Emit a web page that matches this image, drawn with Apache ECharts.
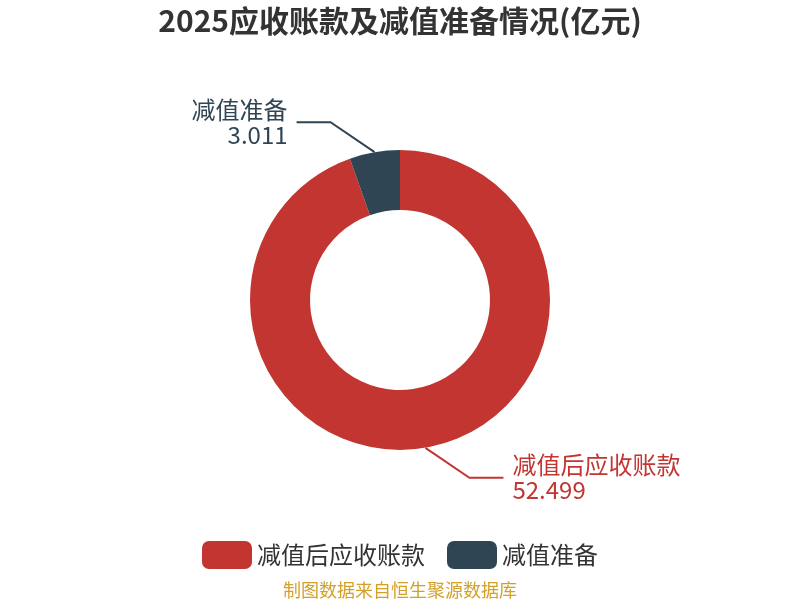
<!DOCTYPE html>
<html>
<head>
<meta charset="utf-8">
<script src="https://cdn.jsdelivr.net/npm/echarts@6/dist/echarts.min.js"></script>
<style>
html, body { margin: 0; padding: 0; background: #fff; }
#main { width: 800px; height: 600px; }
</style>
</head>
<body>
<div id="main"></div>
<script>
var titleText = '2025应收账款及减值准备情况(亿元)';
var categories = ['减值后应收账款', '减值准备'];
var values = [52.499, 3.011];
var colors = ['#c23531', '#2f4554'];
var sourceText = '制图数据来自恒生聚源数据库';

var myChart = echarts.init(document.getElementById('main'));
var option = {
	color: colors,
	textStyle: {
		fontFamily: 'Noto Sans CJK SC'
	},
	title: [{
		text: titleText,
		left: 'center',
		top: 1,
		textStyle: {
			fontSize: 30,
			fontWeight: 'bold',
			color: '#333'
		}
	}, {
		text: sourceText,
		left: 'center',
		top: 576,
		textStyle: {
			fontSize: 18,
			fontWeight: 'normal',
			color: '#d4a02a'
		}
	}],
	legend: {
		bottom: 26,
		left: 'center',
		itemWidth: 50,
		itemHeight: 28,
		itemGap: 22,
		icon: 'roundRect',
		textStyle: {
			fontSize: 24,
			color: '#333'
		},
		data: categories
	},
	series: [{
		type: 'pie',
		radius: [90, 150],
		center: ['50%', '50%'],
		startAngle: 90,
		data: categories.map(function(name, i) {
			return { name: name, value: values[i] };
		}),
		label: {
			formatter: '{b}\n{c}',
			fontSize: 24,
			lineHeight: 25,
			color: 'inherit'
		},
		labelLine: {
			length: 40,
			length2: 35,
			lineStyle: { width: 2 }
		},
		// 引导线先斜后平
		labelLayout: function(params) {
			var pts = params.labelLinePoints;
			if (!pts) return {};
			var p0 = pts[0];
			var dir = pts[2][0] < p0[0] ? -1 : 1;
			var vdir = pts[1][1] < p0[1] ? -1 : 1;
			var p1 = [p0[0] + dir * 44, p0[1] + vdir * 30];
			var p2 = [p1[0] + dir * 34, p1[1]];
			return {
				x: p2[0] + dir * 9,
				y: p2[1],
				align: dir < 0 ? 'right' : 'left',
				verticalAlign: 'middle',
				labelLinePoints: [p0, p1, p2]
			};
		}
	}]
};
myChart.setOption(option);
</script>
</body>
</html>
